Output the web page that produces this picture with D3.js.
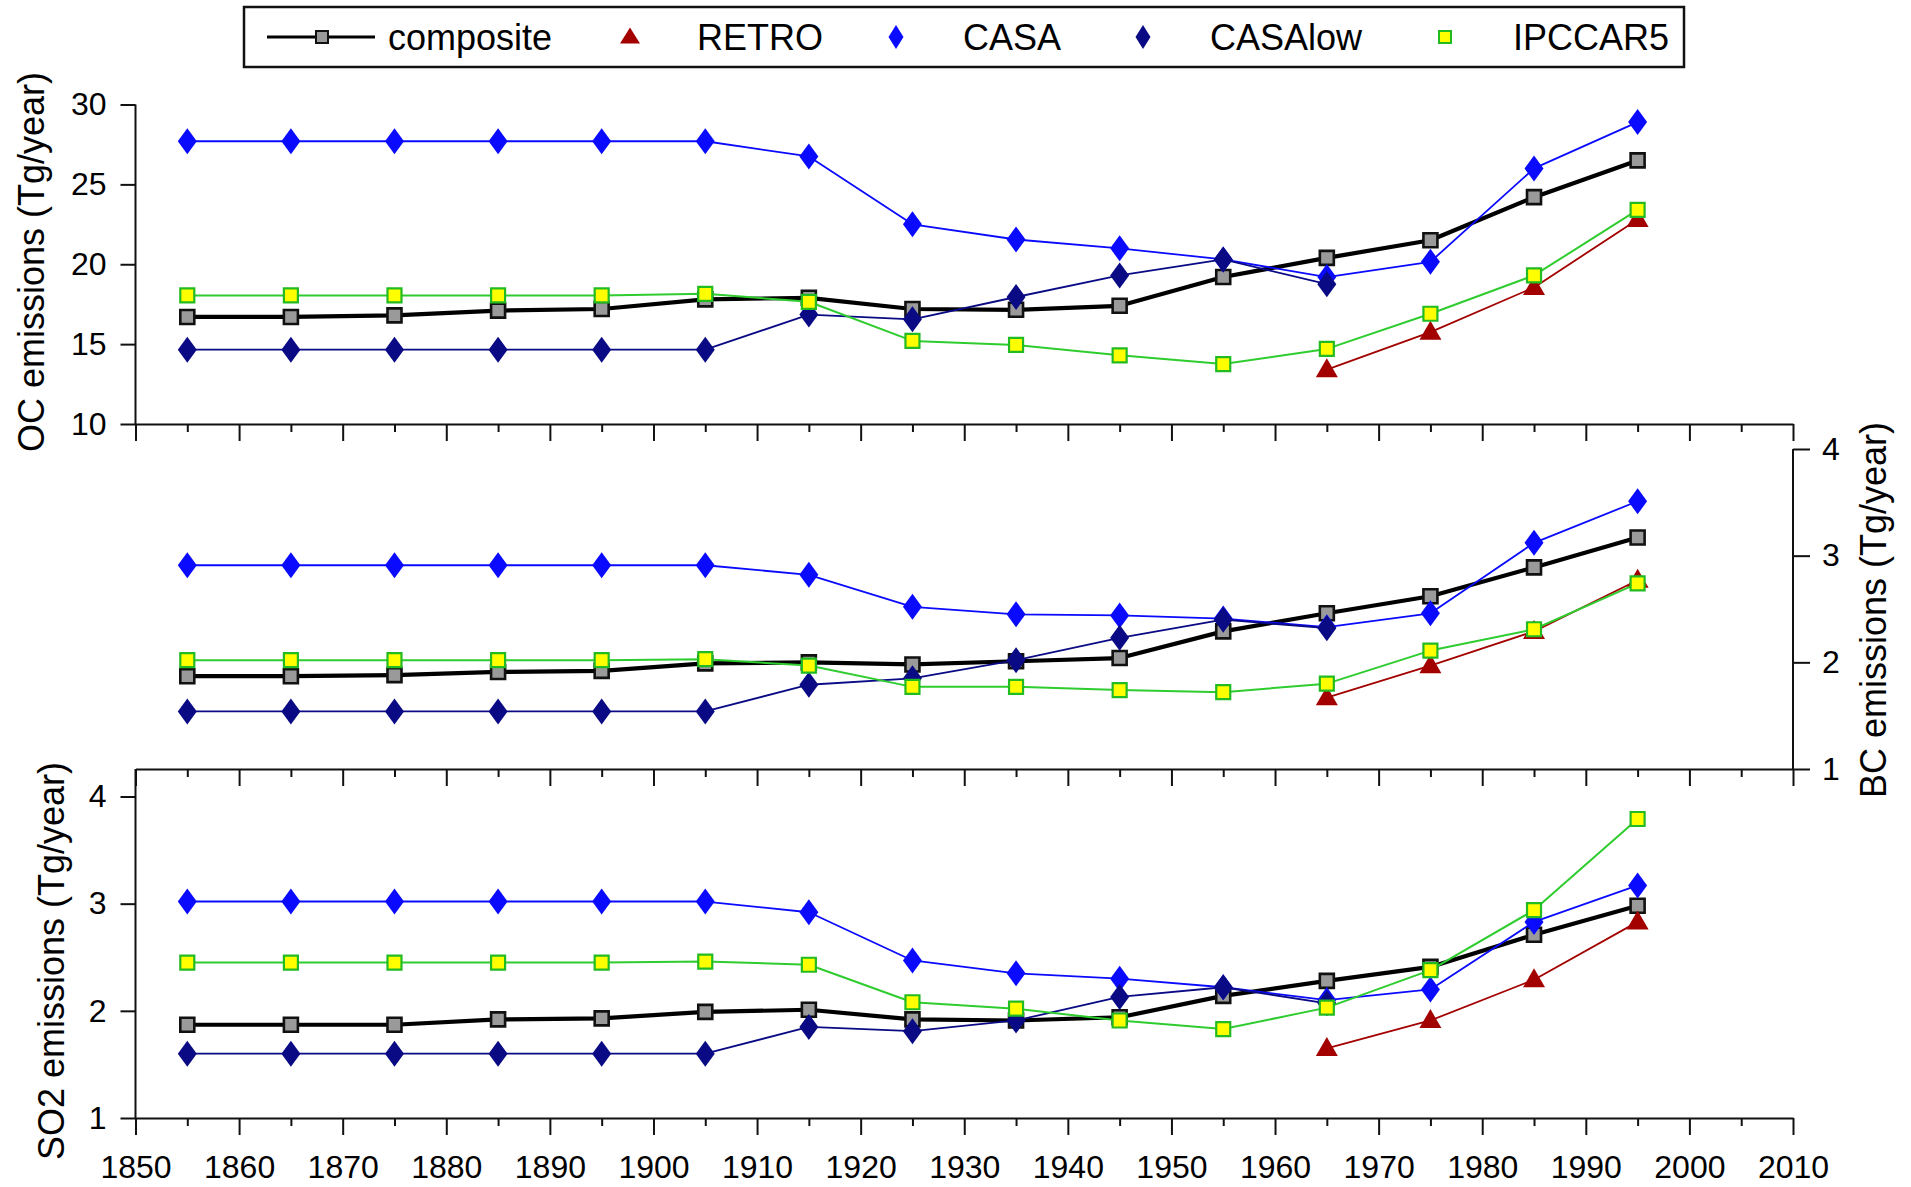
<!DOCTYPE html>
<html>
<head>
<meta charset="utf-8">
<script src="https://cdn.jsdelivr.net/npm/d3@7"></script>
<style>
  body { margin: 0; background: #fff; }
  svg { display: block; font-family: "Liberation Sans", Arial, sans-serif; }
</style>
</head>
<body>
<svg id="chart" width="1911" height="1187"></svg>
<script>
// years of the decadal means
var years = [1855, 1865, 1875, 1885, 1895, 1905, 1915, 1925, 1935, 1945, 1955, 1965, 1975, 1985, 1995];
var seriesNames = ['composite', 'RETRO', 'CASA', 'CASAlow', 'IPCCAR5'];

// OC emissions (Tg/year)
var ocComposite = [16.7, 16.7, 16.8, 17.1, 17.2, 17.8, 17.9, 17.2, 17.15, 17.4, 19.2, 20.4, 21.5, 24.2, 26.5];
var ocRetro     = [null, null, null, null, null, null, null, null, null, null, null, 13.4, 15.75, 18.55, 22.8];
var ocCasa      = [27.7, 27.7, 27.7, 27.7, 27.7, 27.7, 26.75, 22.5, 21.55, 21.0, 20.3, 19.2, 20.15, 26.0, 28.9];
var ocCasaLow   = [14.65, 14.65, 14.65, 14.65, 14.65, 14.65, 16.85, 16.55, 17.95, 19.3, 20.3, 18.75, null, null, null];
var ocIpcc      = [18.05, 18.05, 18.05, 18.05, 18.05, 18.15, 17.65, 15.2, 14.95, 14.3, 13.75, 14.7, 16.9, 19.3, 23.4];

// BC emissions (Tg/year)
var bcComposite = [1.87, 1.87, 1.88, 1.91, 1.92, 1.99, 2.0, 1.98, 2.01, 2.04, 2.29, 2.46, 2.62, 2.89, 3.17];
var bcRetro     = [null, null, null, null, null, null, null, null, null, null, null, 1.67, 1.97, 2.29, 2.77];
var bcCasa      = [2.91, 2.91, 2.91, 2.91, 2.91, 2.91, 2.82, 2.52, 2.45, 2.44, 2.41, 2.33, 2.46, 3.12, 3.51];
var bcCasaLow   = [1.54, 1.54, 1.54, 1.54, 1.54, 1.54, 1.79, 1.85, 2.02, 2.23, 2.4, 2.32, null, null, null];
var bcIpcc      = [2.02, 2.02, 2.02, 2.02, 2.02, 2.03, 1.97, 1.77, 1.77, 1.74, 1.72, 1.8, 2.11, 2.31, 2.74];

// SO2 emissions (Tg/year)
var so2Composite = [1.87, 1.87, 1.87, 1.92, 1.93, 1.99, 2.01, 1.92, 1.91, 1.94, 2.14, 2.28, 2.41, 2.71, 2.98];
var so2Retro     = [null, null, null, null, null, null, null, null, null, null, null, 1.65, 1.91, 2.29, 2.83];
var so2Casa      = [3.02, 3.02, 3.02, 3.02, 3.02, 3.02, 2.92, 2.47, 2.35, 2.3, 2.22, 2.1, 2.2, 2.83, 3.17];
var so2CasaLow   = [1.6, 1.6, 1.6, 1.6, 1.6, 1.6, 1.85, 1.81, 1.91, 2.13, 2.22, 2.07, null, null, null];
var so2Ipcc      = [2.45, 2.45, 2.45, 2.45, 2.45, 2.46, 2.43, 2.08, 2.02, 1.91, 1.83, 2.03, 2.38, 2.94, 3.79];

var xTickLabels = [1850, 1860, 1870, 1880, 1890, 1900, 1910, 1920, 1930, 1940, 1950, 1960, 1970, 1980, 1990, 2000, 2010];
var xMinorTicks = [1855, 1865, 1875, 1885, 1895, 1905, 1915, 1925, 1935, 1945, 1955, 1965, 1975, 1985, 1995, 2005];
var ocTicks = [10, 15, 20, 25, 30];
var bcTicks = [1, 2, 3, 4];
var so2Ticks = [1, 2, 3, 4];

var svg = d3.select('#chart');

// series styling
var styles = {
    composite: { line: '#000', lw: 4.2, shape: 'square', size: [14, 14], fill: '#9a9a9a', stroke: '#111', sw: 2.6 },
    RETRO:     { line: '#a30000', lw: 1.8, shape: 'triangle', size: [22, 19], fill: '#a30000', stroke: 'none', sw: 0 },
    CASA:      { line: '#0a0aff', lw: 1.8, shape: 'diamond', size: [19, 26], fill: '#0a0aff', stroke: 'none', sw: 0 },
    CASAlow:   { line: '#0a0a85', lw: 1.8, shape: 'diamond', size: [19, 26], fill: '#0a0a85', stroke: 'none', sw: 0 },
    IPCCAR5:   { line: '#2ecc2e', lw: 2, shape: 'square', size: [14, 14], fill: '#ffff00', stroke: '#22bb22', sw: 2.2 }
};

function shapePath(shape, w, h) {
    if (shape === 'square') return 'M' + (-w / 2) + ',' + (-h / 2) + 'h' + w + 'v' + h + 'h' + (-w) + 'Z';
    if (shape === 'diamond') return 'M0,' + (-h / 2) + 'L' + (w / 2) + ',0L0,' + (h / 2) + 'L' + (-w / 2) + ',0Z';
    // triangle, roughly centred on the point
    return 'M0,' + (-h * 0.6) + 'L' + (w / 2) + ',' + (h * 0.4) + 'L' + (-w / 2) + ',' + (h * 0.4) + 'Z';
}

var x = d3.scaleLinear().domain([1850, 2010]).range([135.5, 1793]);

var panels = [
    { name: 'OC', values: [ocComposite, ocRetro, ocCasa, ocCasaLow, ocIpcc], domain: [10, 30], range: [424, 104.5], ticks: ocTicks, side: 'left', top: 104.5,
      title: 'OC emissions (Tg/year)', tx: 31, ty: 262 },
    { name: 'BC', values: [bcComposite, bcRetro, bcCasa, bcCasaLow, bcIpcc], domain: [1, 4], range: [769, 449], ticks: bcTicks, side: 'right', top: 449,
      title: 'BC emissions (Tg/year)', tx: 1873, ty: 610 },
    { name: 'SO2', values: [so2Composite, so2Retro, so2Casa, so2CasaLow, so2Ipcc], domain: [1, 4], range: [1118, 796.5], ticks: so2Ticks, side: 'left', top: 769,
      title: 'SO2 emissions (Tg/year)', tx: 51, ty: 961 }
];

function styleAxis(g, fontSize) {
    g.selectAll('path, line').attr('stroke', '#111').attr('stroke-width', 2);
    g.selectAll('text').attr('fill', '#000').style('font-size', fontSize + 'px')
        .style('font-family', '"Liberation Sans", Arial, sans-serif');
}

panels.forEach(function (p, pi) {
    var y = d3.scaleLinear().domain(p.domain).range(p.range);
    var bottom = p.range[0];
    var last = pi === panels.length - 1;

    // x axis at the bottom of each panel, ticks pointing down
    var gx = svg.append('g').attr('transform', 'translate(0,' + bottom + ')')
        .call(d3.axisBottom(x).tickValues(xTickLabels).tickSize(17).tickSizeOuter(0).tickPadding(20)
            .tickFormat(last ? d3.format('d') : function () { return ''; }));
    styleAxis(gx, 32);
    var gxm = svg.append('g').attr('transform', 'translate(0,' + bottom + ')')
        .call(d3.axisBottom(x).tickValues(xMinorTicks).tickSize(8).tickSizeOuter(0).tickFormat(''));
    gxm.select('.domain').remove();
    styleAxis(gxm, 32);

    // y axis
    var axis = p.side === 'left' ? d3.axisLeft(y).tickSize(15).tickPadding(14)
                                 : d3.axisRight(y).tickSize(17).tickPadding(12);
    axis.tickValues(p.ticks).tickSizeOuter(0).tickFormat(d3.format('d'));
    var axX = p.side === 'left' ? x.range()[0] : x.range()[1];
    var gy = svg.append('g').attr('transform', 'translate(' + axX + ',0)').call(axis);
    gy.select('.domain').remove();
    gy.append('line').attr('x1', 0).attr('x2', 0).attr('y1', bottom).attr('y2', p.top);
    styleAxis(gy, 32);

    svg.append('text')
        .attr('transform', 'translate(' + p.tx + ',' + p.ty + ') rotate(-90)')
        .attr('text-anchor', 'middle')
        .attr('dominant-baseline', 'central')
        .style('font-size', '36px')
        .text(p.title);

    // series: line then markers, in legend order
    var line = d3.line()
        .defined(function (d) { return d.v !== null; })
        .x(function (d) { return x(d.year); })
        .y(function (d) { return y(d.v); });

    seriesNames.forEach(function (name, si) {
        var st = styles[name];
        var pts = years.map(function (yr, i) { return { year: yr, v: p.values[si][i] }; });
        svg.append('path')
            .datum(pts)
            .attr('fill', 'none')
            .attr('stroke', st.line)
            .attr('stroke-width', st.lw)
            .attr('stroke-linejoin', 'round')
            .attr('d', line);
        svg.append('g').selectAll('path')
            .data(pts.filter(function (d) { return d.v !== null; }))
            .enter()
            .append('path')
            .attr('transform', function (d) { return 'translate(' + x(d.year) + ',' + y(d.v) + ')'; })
            .attr('d', shapePath(st.shape, st.size[0], st.size[1]))
            .attr('fill', st.fill)
            .attr('stroke', st.stroke)
            .attr('stroke-width', st.sw);
    });
});

// legend box along the top
var legendX = [322, 630, 896, 1143, 1445];   // marker centres
var legendTextX = [388, 697, 963, 1210, 1513];
var legendY = 37;
var legend = svg.append('g');
legend.append('rect')
    .attr('x', 244).attr('y', 7).attr('width', 1440).attr('height', 60)
    .attr('fill', '#fff').attr('stroke', '#111').attr('stroke-width', 2.5);

seriesNames.forEach(function (name, i) {
    var st = styles[name];
    if (name === 'composite') {
        legend.append('line')
            .attr('x1', 267).attr('x2', 375).attr('y1', legendY).attr('y2', legendY)
            .attr('stroke', st.line).attr('stroke-width', 3);
    }
    var sz = st.shape === 'triangle' ? [20, 16] : st.shape === 'diamond' ? [15, 24] : [12, 12];
    legend.append('path')
        .attr('transform', 'translate(' + legendX[i] + ',' + legendY + ')')
        .attr('d', shapePath(st.shape, sz[0], sz[1]))
        .attr('fill', st.fill)
        .attr('stroke', st.stroke)
        .attr('stroke-width', st.sw ? 2 : 0);
    legend.append('text')
        .attr('x', legendTextX[i]).attr('y', legendY)
        .attr('dominant-baseline', 'central')
        .style('font-size', '36px')
        .text(name);
});
</script>
</body>
</html>
